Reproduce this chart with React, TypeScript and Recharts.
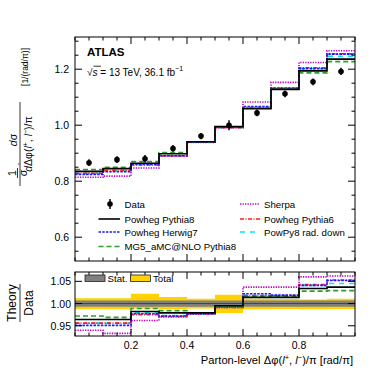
import { ComposedChart, Line, Area, Scatter, ErrorBar, XAxis, YAxis, ReferenceLine } from "recharts";

// bin edges and centres of the parton-level delta-phi distribution
const edges = [0, 0.1, 0.2, 0.3, 0.4, 0.5, 0.6, 0.7, 0.8, 0.9, 1.0];
const centers = [0.05, 0.15, 0.25, 0.35, 0.45, 0.55, 0.65, 0.75, 0.85, 0.95];

const dataVals = [0.866, 0.877, 0.880, 0.917, 0.961, 1.0, 1.044, 1.112, 1.155, 1.192];
const dataErr = [0.012, 0.012, 0.014, 0.012, 0.011, 0.018, 0.012, 0.012, 0.012, 0.013];

// predictions, upper panel
const pwgPy8 = [0.835, 0.845, 0.864, 0.898, 0.941, 0.995, 1.059, 1.128, 1.194, 1.236];
const pwgH7 = [0.824, 0.834, 0.860, 0.891, 0.939, 0.993, 1.067, 1.133, 1.202, 1.254];
const mg5Py8 = [0.842, 0.850, 0.870, 0.902, 0.941, 0.993, 1.061, 1.129, 1.187, 1.227];
const sherpa = [0.814, 0.818, 0.847, 0.890, 0.938, 0.991, 1.083, 1.153, 1.224, 1.266];
const pwgPy6 = [0.828, 0.838, 0.858, 0.890, 0.939, 0.991, 1.063, 1.132, 1.205, 1.255];
const radDown = [0.828, 0.838, 0.862, 0.892, 0.939, 0.991, 1.063, 1.131, 1.202, 1.246];

// theory / data, lower panel
const rPwgPy8 = [0.964, 0.964, 0.982, 0.979, 0.979, 0.995, 1.014, 1.014, 1.034, 1.037];
const rPwgH7 = [0.951, 0.951, 0.977, 0.972, 0.977, 0.993, 1.022, 1.019, 1.041, 1.052];
const rMg5Py8 = [0.972, 0.969, 0.989, 0.984, 0.979, 0.993, 1.016, 1.015, 1.028, 1.029];
const rSherpa = [0.94, 0.933, 0.962, 0.97, 0.976, 0.991, 1.037, 1.037, 1.06, 1.062];
const rPwgPy6 = [0.956, 0.956, 0.975, 0.971, 0.977, 0.991, 1.018, 1.018, 1.043, 1.053];
const rRadDown = [0.956, 0.956, 0.979, 0.973, 0.977, 0.991, 1.018, 1.017, 1.041, 1.045];

const statErr = [0.007, 0.007, 0.007, 0.007, 0.007, 0.007, 0.007, 0.007, 0.007, 0.007];
const totUp = [0.012, 0.012, 0.022, 0.015, 0.011, 0.02, 0.011, 0.01, 0.009, 0.011];
const totDn = [0.013, 0.013, 0.011, 0.012, 0.011, 0.021, 0.013, 0.012, 0.013, 0.012];

const upperYTicks = [0.55, 0.6, 0.65, 0.7, 0.75, 0.8, 0.85, 0.9, 0.95, 1.0, 1.05, 1.1, 1.15, 1.2, 1.25, 1.3];
const upperYLabels = [0.6, 0.8, 1.0, 1.2];
const ratioYTicks = [0.95, 1.0, 1.05];
const xTicks = [0, 0.05, 0.1, 0.15, 0.2, 0.25, 0.3, 0.35, 0.4, 0.45, 0.5, 0.55, 0.6, 0.65, 0.7, 0.75, 0.8, 0.85, 0.9, 0.95, 1.0];
const xLabels = [0.2, 0.4, 0.6, 0.8];

const PL = 75;
const PR = 355;
const UT = 37;
const UB = 261;
const LOFF = 262; // top of ratio chart
const LT = 10; // local coords in ratio chart
const LB = 74;

const FONT = "'Liberation Sans', Arial, Helvetica, sans-serif";

const near = (arr: number[], v: number) => arr.some((m) => Math.abs(m - v) < 1e-6);

const stepRows = edges.map((x, i) => {
  const j = Math.min(i, 9);
  return {
    x,
    py8: pwgPy8[j],
    h7: pwgH7[j],
    mg5: mg5Py8[j],
    sh: sherpa[j],
    py6: pwgPy6[j],
    rd: radDown[j],
  };
});

const ratioRows = edges.map((x, i) => {
  const j = Math.min(i, 9);
  return {
    x,
    py8: rPwgPy8[j],
    h7: rPwgH7[j],
    mg5: rMg5Py8[j],
    sh: rSherpa[j],
    py6: rPwgPy6[j],
    rd: rRadDown[j],
    stat: [1 - statErr[j], 1 + statErr[j]],
    total: [1 - totDn[j], 1 + totUp[j]],
  };
});

const points = centers.map((x, i) => ({ x, y: dataVals[i], err: dataErr[i] }));

const styles = {
  sh: { stroke: "#c000c0", dash: "1.3 1.2" },
  rd: { stroke: "#00e5ff", dash: "5 5" },
  py6: { stroke: "#ff1a1a", dash: "4 1.5 1 1.5" },
  h7: { stroke: "#1a1aff", dash: "2.5 1.2" },
  mg5: { stroke: "#2e9e2e", dash: "5 3" },
  py8: { stroke: "#000000", dash: undefined },
};
const order: (keyof typeof styles)[] = ["sh", "rd", "py6", "h7", "mg5", "py8"];

const UpperYTick = (props: any) => {
  const { y, payload } = props;
  const major = near(upperYLabels, payload.value);
  const len = major ? 7 : 3.5;
  return (
    <g>
      <line x1={PL} x2={PL + len} y1={y} y2={y} stroke="#000" />
      <line x1={PR - len} x2={PR} y1={y} y2={y} stroke="#000" />
      {major && (
        <text x={PL - 6} y={y} textAnchor="end" dominantBaseline="central" fontSize={10.5} fontFamily={FONT} fill="#000">
          {payload.value.toFixed(1)}
        </text>
      )}
    </g>
  );
};

const UpperXTick = (props: any) => {
  const { x, payload } = props;
  const len = near(xLabels, payload.value) ? 7 : 3.5;
  return (
    <g>
      <line x1={x} x2={x} y1={UB} y2={UB - len} stroke="#000" />
      <line x1={x} x2={x} y1={UT} y2={UT + len} stroke="#000" />
    </g>
  );
};

const RatioYTick = (props: any) => {
  const { y, payload } = props;
  return (
    <g>
      <line x1={PL} x2={PL + 7} y1={y} y2={y} stroke="#000" />
      <line x1={PR - 7} x2={PR} y1={y} y2={y} stroke="#000" />
      <text x={PL - 4} y={y} textAnchor="end" dominantBaseline="central" fontSize={10.5} fontFamily={FONT} fill="#000">
        {payload.value.toFixed(2)}
      </text>
    </g>
  );
};

const RatioXTick = (props: any) => {
  const { x, payload } = props;
  const major = near(xLabels, payload.value);
  const len = major ? 7 : 3.5;
  return (
    <g>
      <line x1={x} x2={x} y1={LB} y2={LB - len} stroke="#000" />
      <line x1={x} x2={x} y1={LT} y2={LT + len} stroke="#000" />
      {major && (
        <text x={x} y={LB + 8.5} textAnchor="middle" dominantBaseline="central" fontSize={10.5} fontFamily={FONT} fill="#000">
          {payload.value.toFixed(1)}
        </text>
      )}
    </g>
  );
};

const DataDot = (props: any) => <circle cx={props.cx} cy={props.cy} r={2.8} fill="#000" />;

const legendLeft = [
  { key: "py8" as const, label: "Powheg Pythia8", y: 219 },
  { key: "h7" as const, label: "Powheg Herwig7", y: 232 },
  { key: "mg5" as const, label: "MG5_aMC@NLO Pythia8", y: 246.5 },
];
const legendRight = [
  { key: "sh" as const, label: "Sherpa", y: 204 },
  { key: "py6" as const, label: "Powheg Pythia6", y: 219 },
  { key: "rd" as const, label: "PowPy8 rad. down", y: 232 },
];

const LFS = 9.7;

const Overlay = () => (
  <svg width={374} height={374} style={{ position: "absolute", left: 0, top: 0, pointerEvents: "none" }} fontFamily={FONT}>
    <rect x={PL} y={UT} width={PR - PL} height={UB - UT} fill="none" stroke="#000" />
    <rect x={PL} y={LOFF + LT} width={PR - PL} height={LB - LT} fill="none" stroke="#000" />

    <text x={87} y={52} fontSize={11.5} fontWeight="bold" dominantBaseline="central">ATLAS</text>
    <text x={87} y={72} fontSize={10} dominantBaseline="central">
      √<tspan fontStyle="italic">s</tspan> = 13 TeV, 36.1 fb<tspan dy={-4} fontSize={7}>−1</tspan>
    </text>
    <line x1={93.5} x2={101} y1={66.2} y2={66.2} stroke="#000" strokeWidth={0.8} />

    {/* legend */}
    <line x1={110} x2={110} y1={199} y2={209} stroke="#000" strokeWidth={1.5} />
    <circle cx={110} cy={204} r={2.8} fill="#000" />
    <text x={124.5} y={204} fontSize={LFS} dominantBaseline="central">Data</text>
    {legendLeft.map((l) => (
      <g key={l.key}>
        <line x1={98.5} x2={120} y1={l.y} y2={l.y} stroke={styles[l.key].stroke} strokeWidth={1.6} strokeDasharray={styles[l.key].dash} />
        <text x={124.5} y={l.y} fontSize={LFS} dominantBaseline="central">{l.label}</text>
      </g>
    ))}
    {legendRight.map((l) => (
      <g key={l.key}>
        <line x1={240} x2={260} y1={l.y} y2={l.y} stroke={styles[l.key].stroke} strokeWidth={1.6} strokeDasharray={styles[l.key].dash} />
        <text x={264} y={l.y} fontSize={LFS} dominantBaseline="central">{l.label}</text>
      </g>
    ))}

    {/* ratio legend */}
    <rect x={85} y={275} width={20} height={6.5} fill="#808080" stroke="#222" strokeWidth={0.8} />
    <text x={107.5} y={278.5} fontSize={LFS} dominantBaseline="central">Stat.</text>
    <rect x={130.5} y={275} width={20} height={6.5} fill="#ffd200" stroke="#222" strokeWidth={0.8} />
    <text x={153} y={278.5} fontSize={LFS} dominantBaseline="central">Total</text>

    {/* upper y label */}
    <g transform="rotate(-90)">
      <text x={-173} y={12} fontSize={10.5} textAnchor="middle" dominantBaseline="central">1</text>
      <text x={-173} y={23} fontSize={10.5} textAnchor="middle" dominantBaseline="central">σ</text>
      <text x={-164} y={18} fontSize={10.5} textAnchor="middle" dominantBaseline="central">·</text>
      <text x={-140} y={12.5} fontSize={10.5} textAnchor="middle" dominantBaseline="central">
        <tspan fontStyle="italic">d</tspan>σ
      </text>
      <text x={-144} y={28} fontSize={10.5} textAnchor="middle" dominantBaseline="central">
        <tspan fontStyle="italic">d</tspan>Δφ(<tspan fontStyle="italic">l</tspan>
        <tspan dy={-3.5} fontSize={7}>+</tspan>
        <tspan dy={3.5}>, </tspan>
        <tspan fontStyle="italic">l</tspan>
        <tspan dy={-3.5} fontSize={7}>−</tspan>
        <tspan dy={3.5}>)/π</tspan>
      </text>
      <text x={-67} y={25} fontSize={8.5} textAnchor="middle" dominantBaseline="central">[1/(rad/π)]</text>
    </g>
    <line x1={17.5} x2={17.5} y1={168} y2={178} stroke="#000" strokeWidth={0.8} />
    <line x1={20} x2={20} y1={102} y2={186} stroke="#000" strokeWidth={0.8} />

    {/* ratio y label */}
    <g transform="rotate(-90)">
      <text x={-303} y={12} fontSize={12} textAnchor="middle" dominantBaseline="central">Theory</text>
      <text x={-303} y={28.5} fontSize={12} textAnchor="middle" dominantBaseline="central">Data</text>
    </g>
    <line x1={20} x2={20} y1={284} y2={322} stroke="#000" strokeWidth={0.8} />

    {/* x label */}
    <text x={353} y={360} fontSize={11.2} textAnchor="end" dominantBaseline="central">
      Parton-level Δφ(<tspan fontStyle="italic">l</tspan>
      <tspan dy={-3.5} fontSize={7.5}>+</tspan>
      <tspan dy={3.5}>, </tspan>
      <tspan fontStyle="italic">l</tspan>
      <tspan dy={-3.5} fontSize={7.5}>−</tspan>
      <tspan dy={3.5}>)/π [rad/π]</tspan>
    </text>
  </svg>
);

export default function App() {
  return (
    <div style={{ position: "absolute", left: 0, top: 0, width: 374, height: 374, background: "#fff", fontFamily: FONT }}>
      <div style={{ position: "absolute", left: 0, top: 0 }}>
        <ComposedChart width={374} height={262} data={stepRows} margin={{ top: UT, right: 374 - PR, left: PL - 40, bottom: 0 }}>
          <XAxis dataKey="x" type="number" domain={[0, 1]} ticks={xTicks} interval={0} height={1} axisLine={false} tickLine={false} tick={<UpperXTick />} allowDataOverflow />
          <YAxis type="number" domain={[0.515, 1.315]} ticks={upperYTicks} interval={0} width={40} axisLine={false} tickLine={false} tick={<UpperYTick />} allowDataOverflow />
          {order.map((k) => (
            <Line key={k} dataKey={k} type="stepAfter" stroke={styles[k].stroke} strokeDasharray={styles[k].dash} strokeWidth={1.6} dot={false} isAnimationActive={false} />
          ))}
          <Scatter data={points} dataKey="y" shape={<DataDot />} isAnimationActive={false}>
            <ErrorBar dataKey="err" direction="y" width={0} stroke="#000" strokeWidth={1.5} />
          </Scatter>
        </ComposedChart>
      </div>
      <div style={{ position: "absolute", left: 0, top: LOFF }}>
        <ComposedChart width={374} height={112} data={ratioRows} margin={{ top: LT, right: 374 - PR, left: PL - 40, bottom: 18 }}>
          <XAxis dataKey="x" type="number" domain={[0, 1]} ticks={xTicks} interval={0} height={20} axisLine={false} tickLine={false} tick={<RatioXTick />} allowDataOverflow />
          <YAxis type="number" domain={[0.927, 1.071]} ticks={ratioYTicks} interval={0} width={40} axisLine={false} tickLine={false} tick={<RatioYTick />} allowDataOverflow />
          <Area dataKey="total" type="stepAfter" fill="#ffd200" fillOpacity={1} stroke="none" isAnimationActive={false} />
          <Area dataKey="stat" type="stepAfter" fill="#808080" fillOpacity={1} stroke="none" isAnimationActive={false} />
          <ReferenceLine y={1} stroke="#444" strokeWidth={1} />
          {order.map((k) => (
            <Line key={k} dataKey={k} type="stepAfter" stroke={styles[k].stroke} strokeDasharray={styles[k].dash} strokeWidth={1.6} dot={false} isAnimationActive={false} />
          ))}
        </ComposedChart>
      </div>
      <Overlay />
    </div>
  );
}
